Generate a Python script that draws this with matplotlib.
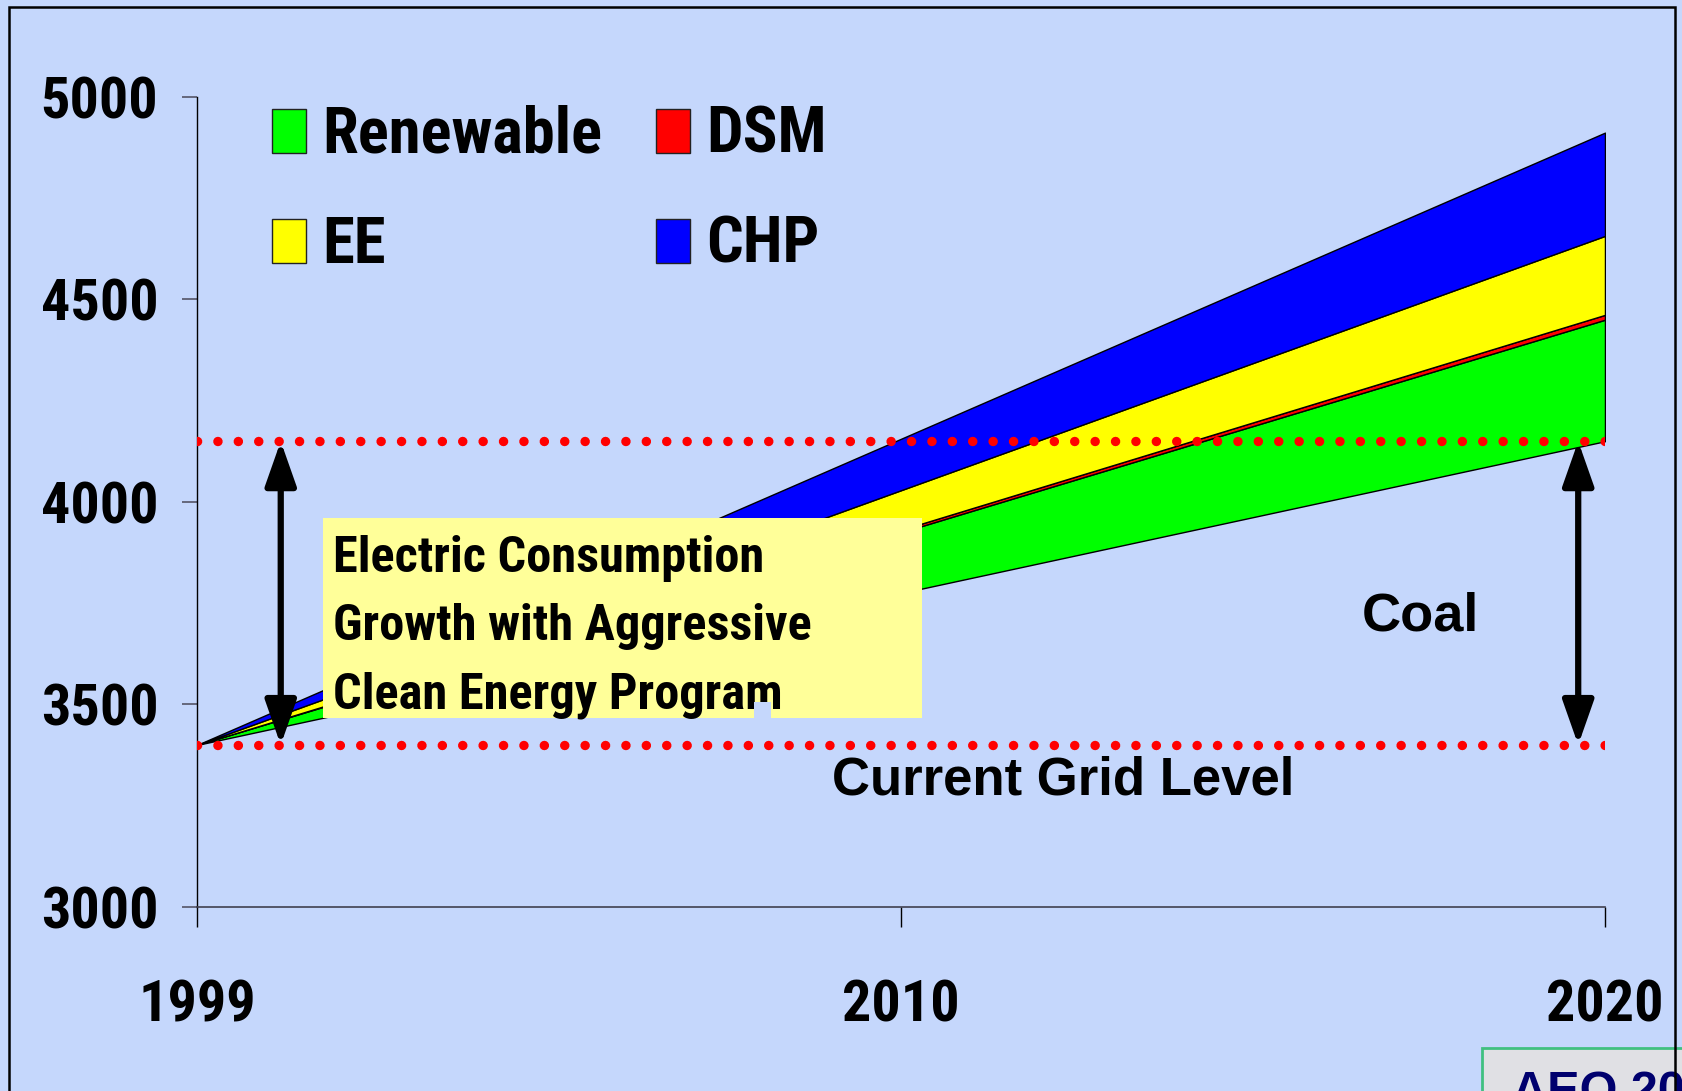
import matplotlib.pyplot as plt
from matplotlib import font_manager
from matplotlib.font_manager import FontProperties
from matplotlib.patches import Rectangle
import numpy as np

# chart data
years = ['1999', '2010', '2020']
coal = [3400, 3775, 4150]
renewable = [0, 150, 300]
dsm = [0, 6, 12]
ee = [0, 98, 195]
chp = [0, 127, 255]

series_names = ['Renewable', 'DSM', 'EE', 'CHP']
series_colors = ['#00ff00', '#ff0000', '#ffff00', '#0000ff']

grid_levels = [3400, 4150]
y_ticks = [3000, 3500, 4000, 4500, 5000]

box_lines = ['Electric Consumption', 'Growth with Aggressive', 'Clean Energy Program']


def pick_narrow():
    entries = font_manager.fontManager.ttflist
    names = {f.name for f in entries}
    for p, k in [('Liberation Sans Narrow', 1.0), ('Arial Narrow', 1.0),
                 ('Roboto Condensed', 0.93), ('Noto Sans Condensed', 0.93),
                 ('Open Sans Condensed', 0.93), ('DejaVu Sans Condensed', 0.85)]:
        if p in names:
            return p, 'normal', k
    for fam in ['Roboto', 'Noto Sans', 'Open Sans', 'DejaVu Sans']:
        for f in entries:
            if f.name == fam and f.stretch in ('condensed', 'semi-condensed', 'extra-condensed'):
                return fam, f.stretch, 0.93
    return 'Liberation Sans', 'normal', 0.86


narrow, narrow_stretch, shrink = pick_narrow()


def nfont(size):
    return FontProperties(family=narrow, stretch=narrow_stretch, weight='bold', size=size * shrink)


wide = 'Liberation Sans'
bg = '#c5d7fc'

fig = plt.figure(figsize=(16.82, 10.91), dpi=100, facecolor=bg)
ax = fig.add_axes([0.1171, 0.1687, 0.8371, 0.7424])
ax.set_facecolor(bg)

x = np.arange(len(years))
bottom = np.array(coal, dtype=float)
for vals, col in zip([renewable, dsm, ee, chp], series_colors):
    top = bottom + np.array(vals)
    ax.fill_between(x, bottom, top, facecolor=col, edgecolor='black', linewidth=1.0, zorder=2)
    bottom = top

# red dotted grid levels
for lvl in grid_levels:
    ax.plot([x[0], x[-1]], [lvl, lvl], color='#ff0000', lw=6.8,
            linestyle=(0, (0.01, 2.15)), dash_capstyle='round', zorder=3)

# double arrows
for ax_x in (0.119, 1.962):
    ax.annotate('', xy=(ax_x, grid_levels[0]), xytext=(ax_x, grid_levels[1]),
                arrowprops=dict(arrowstyle='<|-|>,head_length=2.7,head_width=0.95',
                                color='black', lw=4.5, mutation_scale=10,
                                shrinkA=0, shrinkB=0), zorder=4)

ax.set_xlim(0, 2)
ax.set_ylim(3000, 5000)
ax.set_xticks(x)
ax.set_xticklabels(years)
ax.set_yticks(y_ticks)
ax.set_yticklabels([str(v) for v in y_ticks])
for lab in ax.get_xticklabels() + ax.get_yticklabels():
    lab.set_fontproperties(nfont(45))
ax.tick_params(axis='x', direction='out', length=14.4, width=1.0, color='black', pad=37)
ax.tick_params(axis='y', direction='out', length=10.8, width=1.2, color='#555566', pad=17)
ax.spines['top'].set_visible(False)
ax.spines['right'].set_visible(False)
ax.spines['left'].set_color('black')
ax.spines['left'].set_linewidth(1.0)
ax.spines['bottom'].set_color('#404050')
ax.spines['bottom'].set_linewidth(1.2)

# legend drawn by hand, 2 columns
leg_x = [0.0533, 0.326]
leg_y = [0.9309, 0.7951]
for i, (name, col) in enumerate(zip(series_names, series_colors)):
    cx = leg_x[i % 2]
    cy = leg_y[i // 2]
    ax.add_patch(Rectangle((cx, cy), 0.0241, 0.0543, transform=ax.transAxes,
                           facecolor=col, edgecolor='#222222', lw=1.0, zorder=6, clip_on=False))
    ax.text(cx + 0.0355, cy, name, transform=ax.transAxes, fontproperties=nfont(50),
            va='baseline', ha='left', zorder=6)

# yellow text box
ax.add_patch(Rectangle((0.0898, 0.2333), 0.4251, 0.2469, transform=ax.transAxes,
                       facecolor='#ffff99', edgecolor='none', zorder=5))
for i, line in enumerate(box_lines):
    ax.text(0.0966, 0.4136 - i * 0.084, line, transform=ax.transAxes,
            fontproperties=nfont(39), va='baseline', ha='left', zorder=6)
ax.add_patch(Rectangle((0.3956, 0.2333), 0.0121, 0.0198, transform=ax.transAxes,
                       facecolor=bg, edgecolor='none', zorder=7))

ax.text(0.8274, 0.3407, 'Coal', transform=ax.transAxes, fontsize=39,
        fontfamily=wide, fontweight='bold', va='baseline', ha='left', zorder=6)
ax.text(0.451, 0.1383, 'Current Grid Level', transform=ax.transAxes, fontsize=38,
        fontfamily=wide, fontweight='bold', va='baseline', ha='left', zorder=6)

# source badge in the corner, cut off by the page
fig.patches.append(Rectangle((1482 / 1682, -0.02), 0.2, 1 - 1048 / 1091 + 0.02,
                             transform=fig.transFigure, facecolor='#e0e0e4',
                             edgecolor='#40c080', lw=2.0, zorder=1))
fig.text(1512 / 1682, -0.013, 'AEO 2003', fontsize=35, fontfamily=wide, fontweight='bold',
         color='#00006e', va='baseline', ha='left', zorder=2)

# slide frame
fig.patches.append(Rectangle((9 / 1682, -0.05), 1666 / 1682, 1.05 - 7 / 1091,
                             transform=fig.transFigure, facecolor='none',
                             edgecolor='black', lw=1.8, zorder=3))

fig.savefig('out.png', dpi=100, facecolor=bg)
